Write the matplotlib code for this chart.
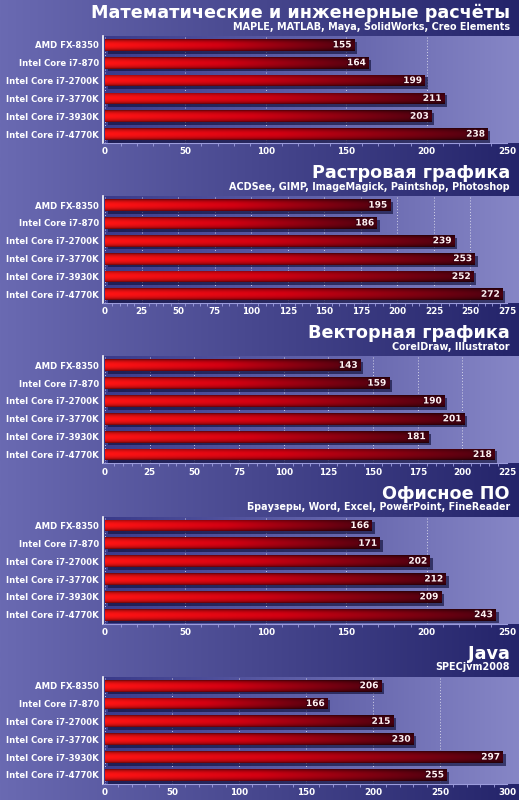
import numpy as np
import matplotlib
matplotlib.use("Agg")
import matplotlib.pyplot as plt
import matplotlib.patheffects as pe
from matplotlib.colors import to_rgb
from matplotlib.patches import Rectangle
from matplotlib.ticker import MultipleLocator

cpus = ["AMD FX-8350", "Intel Core i7-870", "Intel Core i7-2700K",
        "Intel Core i7-3770K", "Intel Core i7-3930K", "Intel Core i7-4770K"]

math_scores = [155, 164, 199, 211, 203, 238]
raster_scores = [195, 186, 239, 253, 252, 272]
vector_scores = [143, 159, 190, 201, 181, 218]
office_scores = [166, 171, 202, 212, 209, 243]
java_scores = [206, 166, 215, 230, 297, 255]

titles = ["Математические и инженерные расчёты", "Растровая графика",
          "Векторная графика", "Офисное ПО", "Java"]
subtitles = ["MAPLE, MATLAB, Maya, SolidWorks, Creo Elements",
             "ACDSee, GIMP, ImageMagick, Paintshop, Photoshop",
             "CorelDraw, Illustrator",
             "Браузеры, Word, Excel, PowerPoint, FineReader",
             "SPECjvm2008"]
x_max = [250, 275, 225, 250, 300]
x_step = [50, 25, 25, 50, 50]

all_scores = [math_scores, raster_scores, vector_scores, office_scores, java_scores]

plt.rcParams['font.family'] = ['DejaVu Sans']
plt.rcParams['font.weight'] = 'bold'

W, H = 519, 800
fig = plt.figure(figsize=(W / 100, H / 100), dpi=100)


def px_axes(x0, y0, x1, y1):
    return fig.add_axes([x0 / W, 1 - y1 / H, (x1 - x0) / W, (y1 - y0) / H])


def hgrad(c0, c1, n=256):
    a, b = np.array(to_rgb(c0)), np.array(to_rgb(c1))
    t = np.linspace(0, 1, n)[None, :, None]
    return a + (b - a) * t


def bar_image():
    # red cylinder look: bright on the left, dark maroon at the end
    t = np.linspace(0, 1, 200)
    stops = np.array([0, 0.45, 1.0])
    cols = np.array([to_rgb('#ff1414'), to_rgb('#d40012'), to_rgb('#4a0010')])
    row = np.stack([np.interp(t, stops, cols[:, k]) for k in range(3)], axis=1)
    v = np.linspace(0, 1, 24)
    shade = 0.42 + 0.58 * np.sin(np.pi * v) ** 0.6
    return np.clip(row[None, :, :] * shade[:, None, None], 0, 1)


bg = px_axes(0, 0, W, H)
bg.imshow(hgrad('#6a6ab2', '#24246a'), aspect='auto', extent=(0, 1, 0, 1))
bg.axis('off')

bimg = bar_image()
y = np.arange(len(cpus))
bh = 0.66

for i, scores in enumerate(all_scores):
    top = 36 + 160.2 * i
    bot = top + 107

    fig.add_artist(Rectangle((0, 1 - (bot + 15) / H), 1, (bot + 15 - top) / H,
                             transform=fig.transFigure, color='#1c1c5a', zorder=0))

    pa = px_axes(103, top, W, bot)
    pa.imshow(hgrad('#3a3a8a', '#8686c6'), aspect='auto', extent=(0, 1, 0, 1))
    pa.axis('off')

    ax = px_axes(103, top, 507, bot)
    ax.set_facecolor('none')
    xm = x_max[i]
    bars = ax.barh(y, scores, height=bh, color='#c00010', zorder=3)
    for bar, v, yi in zip(bars, scores, y):
        bar.set_path_effects([pe.withSimplePatchShadow(offset=(2, -2),
                                                        shadow_rgbFace='#10103a', alpha=0.65)])
        im = ax.imshow(bimg, extent=(0, v, yi + bh / 2, yi - bh / 2), aspect='auto', zorder=4)
        im.set_clip_path(bar)
        ax.annotate(str(v), (v, yi), xytext=(-2, 0), textcoords='offset points',
                    ha='right', va='center', color='#fff2f2', fontsize=6.5, zorder=6,
                    path_effects=[pe.withStroke(linewidth=1.5, foreground='#3a0010')])

    ax.set_xlim(-2 * xm / 402, xm)
    ax.set_ylim(len(cpus) - 0.5, -0.5)
    ax.set_aspect('auto')
    ax.xaxis.set_major_locator(MultipleLocator(x_step[i]))
    ax.xaxis.set_minor_locator(MultipleLocator(x_step[i] / 5))
    ax.set_axisbelow(True)
    ax.grid(axis='x', color='white', linestyle=(0, (1, 2)), linewidth=0.7, alpha=0.7)
    ax.tick_params(axis='x', which='major', length=0, colors='white', labelsize=6.3, pad=3)
    ax.tick_params(axis='x', which='minor', length=2, color='#a0a0e0')
    ax.set_yticks(y, cpus)
    ax.tick_params(axis='y', length=0, colors='white', labelsize=6.1, pad=3)
    for s in ['top', 'right']:
        ax.spines[s].set_visible(False)
    ax.spines['left'].set_color('white')
    ax.spines['left'].set_linewidth(1.2)
    ax.spines['bottom'].set_color('#9c9cdc')

    fig.text(510 / W, 1 - (top - 23) / H, titles[i], ha='right', va='center',
             fontsize=12.7, color='white')
    fig.text(510 / W, 1 - (top - 9.5) / H, subtitles[i], ha='right', va='center',
             fontsize=6.9, color='white')

fig.savefig('out.png', dpi=100)
